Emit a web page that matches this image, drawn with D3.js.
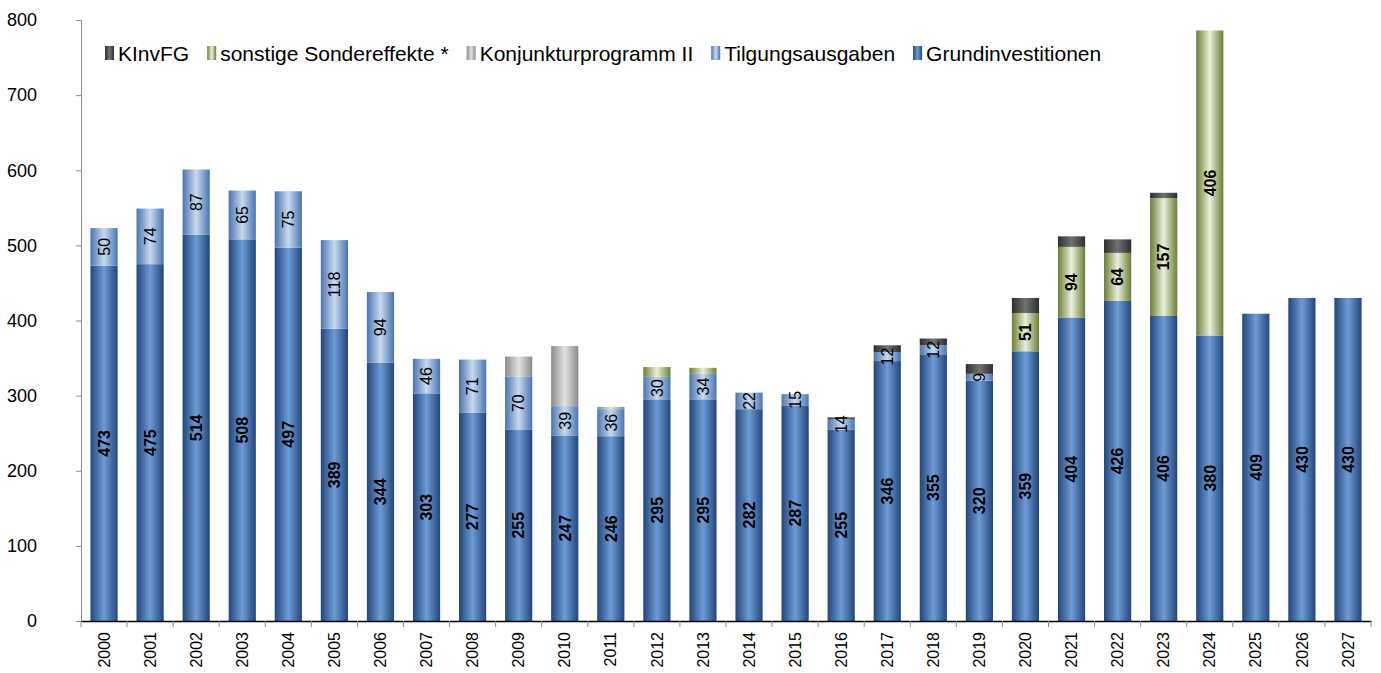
<!DOCTYPE html>
<html lang="de">
<head>
<meta charset="UTF-8">
<title>Investitionen</title>
<script src="https://d3js.org/d3.v7.min.js"></script>
<style>
  body { margin: 0; background: #fff; font-family: 'Liberation Sans', Arial, sans-serif; }
  svg text { font-family: 'Liberation Sans', Arial, sans-serif; }
</style>
</head>
<body>
<svg id="chart" width="1381" height="673"></svg>
<script>
// Jahre
const years = ["2000","2001","2002","2003","2004","2005","2006","2007","2008","2009","2010","2011","2012","2013",
  "2014","2015","2016","2017","2018","2019","2020","2021","2022","2023","2024","2025","2026","2027"];

// Werte je Reihe (Mio. EUR)
const grundinvestitionen = [473,475,514,508,497,389,344,303,277,255,247,246,295,295,282,287,255,346,355,320,359,404,426,406,380,409,430,430];
const tilgungsausgaben   = [50,74,87,65,75,118,94,46,71,70,39,36,30,34,22,15,14,12,12,9,0,0,0,0,0,0,0,0];
const konjunktur         = [0,0,0,0,0,0,0,0,0,27,80,3,0,0,0,0,0,0,0,0,0,0,0,0,0,0,0,0];
const sondereffekte      = [0,0,0,0,0,0,0,0,0,0,0,0,13,8,0,0,0,0,0,0,51,94,64,157,406,0,0,0];
const kinvfg             = [0,0,0,0,0,0,0,0,0,0,0,0,0,0,0,0,2,9,9,13,20,14,18,7,0,0,0,0];

const yTicks = [0,100,200,300,400,500,600,700,800];

const series = [
  { key: "grund", name: "Grundinvestitionen", values: grundinvestitionen, edge: "#23467a", mid: "#6e9bd6", label: "bold" },
  { key: "tilg", name: "Tilgungsausgaben", values: tilgungsausgaben, edge: "#4a74b0", mid: "#c8d9ef", label: "normal" },
  { key: "konj", name: "Konjunkturprogramm II", values: konjunktur, edge: "#8a8a8a", mid: "#e2e2e2", label: null },
  { key: "sonst", name: "sonstige Sondereffekte *", values: sondereffekte, edge: "#6a7f35", mid: "#eaf0dc", label: "bold" },
  { key: "kinv", name: "KInvFG", values: kinvfg, edge: "#2e2e2e", mid: "#727272", label: null }
];

const svg = d3.select("#chart");
const margin = { left: 81 };

const x = d3.scaleBand().domain(years).range([margin.left, 1371]).paddingInner(0.41).paddingOuter(0.205);
const y = d3.scaleLinear().domain([0, 800]).range([621, 20]);

// Gradients
const defs = svg.append("defs");
series.forEach(s => {
  const g = defs.append("linearGradient").attr("id", "g-" + s.key)
    .attr("x1", "0%").attr("x2", "100%").attr("y1", "0%").attr("y2", "0%");
  g.append("stop").attr("offset", "0%").attr("stop-color", s.edge);
  g.append("stop").attr("offset", "50%").attr("stop-color", s.mid);
  g.append("stop").attr("offset", "100%").attr("stop-color", s.edge);
});

// stack
const rows = years.map((yr, i) => {
  const o = { year: yr };
  series.forEach(s => o[s.key] = s.values[i]);
  return o;
});
const stacked = d3.stack().keys(series.map(s => s.key))(rows);

// y axis
const yAxis = svg.append("g").attr("transform", `translate(${margin.left},0)`)
  .call(d3.axisLeft(y).tickValues(yTicks).tickSize(5).tickPadding(39));
yAxis.select(".domain").attr("stroke", "#8c8c8c");
yAxis.selectAll(".tick line").attr("stroke", "#8c8c8c");
yAxis.selectAll("text").attr("font-size", 18).attr("fill", "#000");

// bars
stacked.forEach((layer, li) => {
  const s = series[li];
  svg.append("g").selectAll("rect").data(layer).join("rect")
    .attr("x", d => x(d.data.year))
    .attr("width", x.bandwidth())
    .attr("y", d => y(d[1]))
    .attr("height", d => Math.max(0, y(d[0]) - y(d[1])))
    .attr("fill", `url(#g-${s.key})`);
});

// x axis
const xAxis = svg.append("g").attr("transform", `translate(0,${y(0)})`)
  .call(d3.axisBottom(x).tickSize(0));
xAxis.select(".domain").attr("stroke", "#000").attr("stroke-width", 1.3);
xAxis.selectAll("text")
  .attr("font-size", 16).attr("fill", "#000")
  .attr("transform", "rotate(-90)")
  .attr("x", -11).attr("y", 0).attr("dy", "0.35em")
  .attr("text-anchor", "end");
// category separators
const step = x.step();
xAxis.selectAll(".sep").data(d3.range(years.length + 1)).join("line")
  .attr("x1", i => margin.left + i * step).attr("x2", i => margin.left + i * step)
  .attr("y1", 0).attr("y2", 6).attr("stroke", "#8c8c8c");

// value labels
const labelG = svg.append("g");
stacked.forEach((layer, li) => {
  const s = series[li];
  if (!s.label) return;
  layer.forEach(d => {
    const v = d[1] - d[0];
    if (v <= 0) return;
    if (s.key === "sonst" && v < 20) return;
    const cy = (y(d[0]) + y(d[1])) / 2;
    const cx = x(d.data.year) + x.bandwidth() / 2;
    labelG.append("text")
      .attr("transform", `translate(${cx},${cy}) rotate(-90)`)
      .attr("text-anchor", "middle").attr("dy", "0.36em")
      .attr("font-size", 16).attr("font-weight", s.label)
      .attr("fill", "#000")
      .text(v);
  });
});

// legend
const legendOrder = ["kinv", "sonst", "konj", "tilg", "grund"];
const legend = svg.append("g").attr("transform", "translate(105,53)");
let lx = 0;
legendOrder.forEach(k => {
  const s = series.find(d => d.key === k);
  const item = legend.append("g").attr("transform", `translate(${lx},0)`);
  item.append("rect").attr("x", 0).attr("y", -7).attr("width", 9).attr("height", 14)
    .attr("fill", `url(#g-${s.key})`);
  const t = item.append("text").attr("x", 13).attr("dy", "0.36em")
    .attr("font-size", 21).attr("fill", "#000").text(s.name);
  lx += 13 + t.node().getComputedTextLength() + 18;
});
</script>
</body>
</html>
